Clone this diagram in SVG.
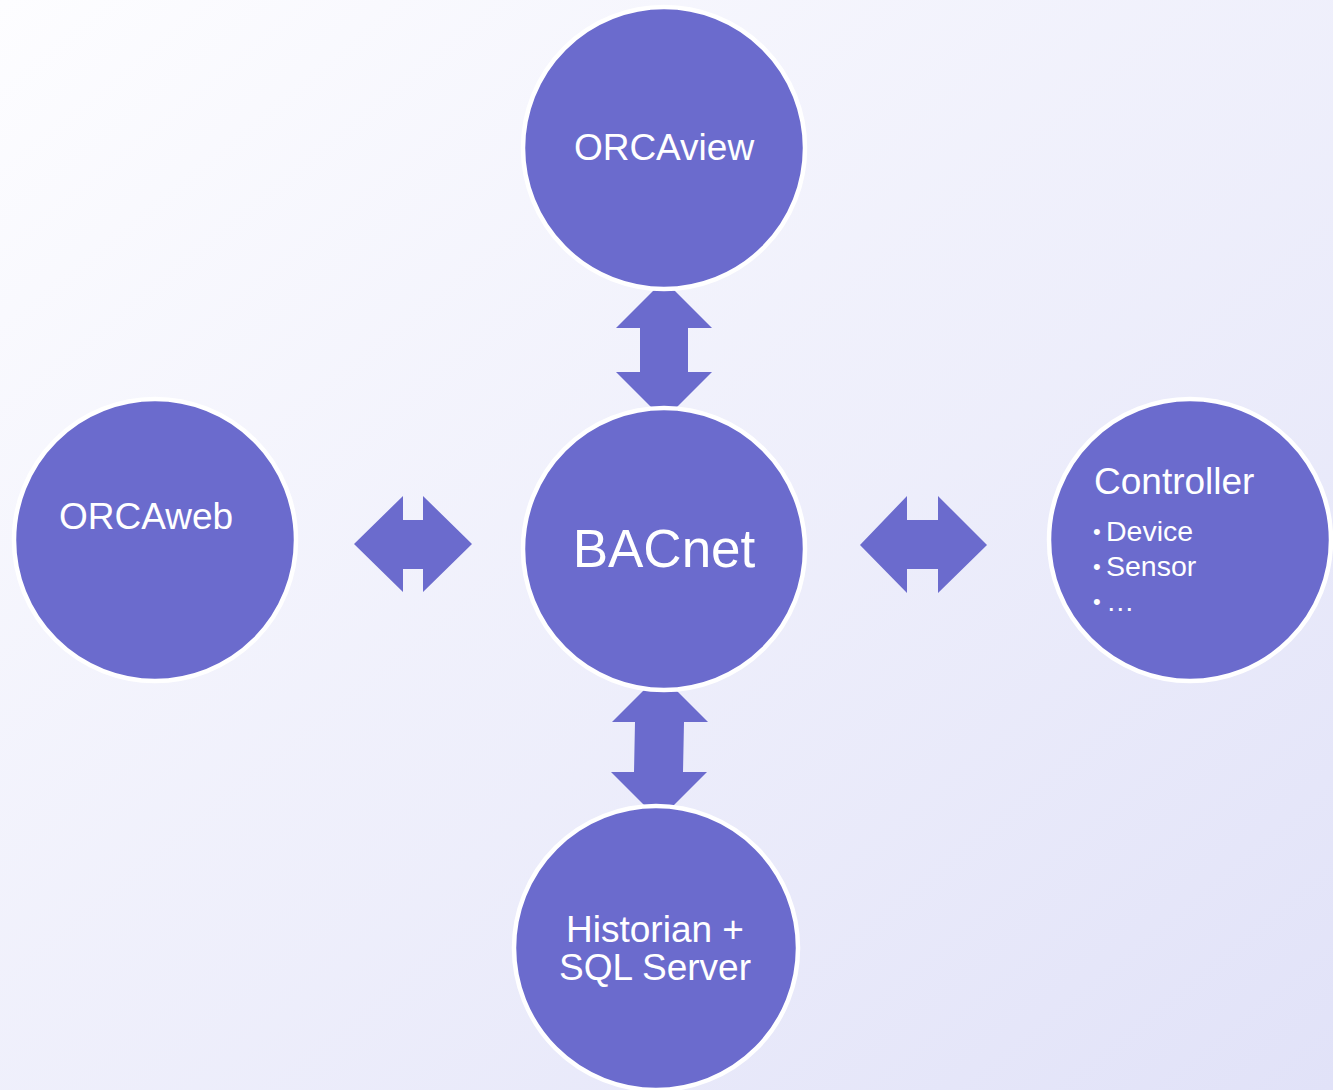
<svg xmlns="http://www.w3.org/2000/svg" width="1333" height="1090" viewBox="0 0 1333 1090">
<defs>
<linearGradient id="bg" x1="0" y1="0" x2="1" y2="1">
<stop offset="0" stop-color="#fdfdff"/>
<stop offset="1" stop-color="#e1e2f8"/>
</linearGradient>
<style>
.node{fill:#6b6bcd;stroke:#ffffff;stroke-width:4.5}
.arrow{fill:#6b6bcd}
text{font-family:"Liberation Sans",Arial,sans-serif;fill:#ffffff}
.bul{font-size:22px}
.item{font-size:28.5px}
</style>
</defs>
<rect width="1333" height="1090" fill="url(#bg)"/>
<g id="connectors">
<polygon class="arrow" points="664,280 712,328 688,328 688,372 712,372 664,420 616,372 640,372 640,328 616,328"/>
<polygon class="arrow" points="354,544 403,496 403,520 423,520 423,496 472,544 423,592 423,569 403,569 403,592"/>
<polygon class="arrow" points="860,545 907,496 907,520 938,520 938,496 987,545 938,593 938,569 907,569 907,593"/>
<polygon class="arrow" points="660,674 708,722 684,722 683,772 707,772 659,820 611,772 634,772 635,722 612,722"/>
</g>
<g id="orcaview">
<circle class="node" cx="664" cy="148" r="141"/>
<text x="664" y="160" font-size="37" text-anchor="middle">ORCAview</text>
</g>
<g id="bacnet">
<circle class="node" cx="664" cy="549" r="141"/>
<text x="664" y="567" font-size="53" text-anchor="middle">BACnet</text>
</g>
<g id="orcaweb">
<circle class="node" cx="155" cy="540" r="141"/>
<text x="59" y="529" font-size="37">ORCAweb</text>
</g>
<g id="controller">
<circle class="node" cx="1190" cy="540" r="141"/>
<text x="1094" y="494" font-size="37">Controller</text>
<text class="bul" x="1093" y="539">•</text>
<text class="item" x="1106" y="541">Device</text>
<text class="bul" x="1093" y="574">•</text>
<text class="item" x="1106" y="576">Sensor</text>
<text class="bul" x="1093" y="609">•</text>
<text class="item" x="1106" y="611">…</text>
</g>
<g id="historian">
<circle class="node" cx="656" cy="948" r="142"/>
<text x="655" y="942" font-size="37" text-anchor="middle">Historian +</text>
<text x="655" y="980" font-size="37" text-anchor="middle">SQL Server</text>
</g>
</svg>
